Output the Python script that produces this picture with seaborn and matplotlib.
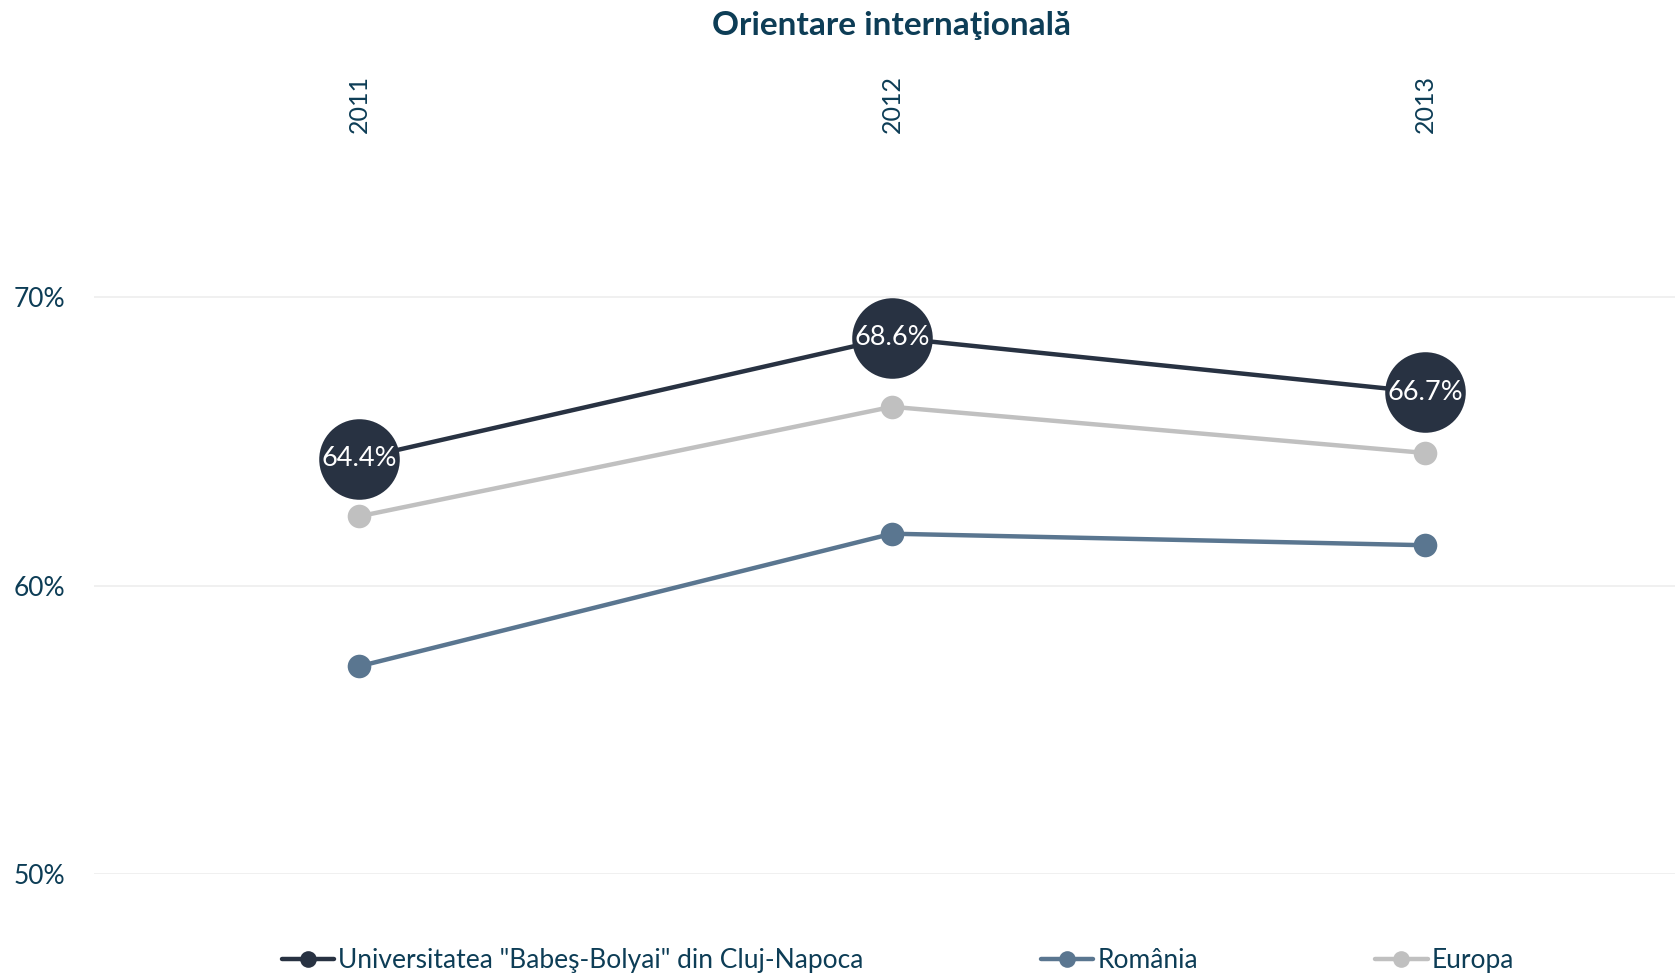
import matplotlib
matplotlib.use('Agg')
import matplotlib.pyplot as plt
import seaborn as sns
import pandas as pd
from matplotlib.lines import Line2D
from matplotlib.ticker import FixedLocator

# Datos
years = ['2011', '2012', '2013']
ubb = [64.4, 68.6, 66.7]
romania = [57.2, 61.8, 61.4]
europa = [62.4, 66.2, 64.6]

series_names = ['Universitatea "Babeş-Bolyai" din Cluj-Napoca', 'România', 'Europa']
colors = ['#283242', '#5a7690', '#c0c0c0']
text_color = '#0d3d56'

sns.set_theme(style='white')
plt.rcParams['font.family'] = ['Lato', 'DejaVu Sans']

df = pd.DataFrame({
    'pos': list(range(len(years))) * 3,
    'value': ubb + romania + europa,
    'serie': [s for s in series_names for _ in years],
})

fig = plt.figure(figsize=(16.75, 9.76), dpi=100)
ax = fig.add_axes([0.0561, 0.1045, 0.9439, 0.7535])

# Dibujar en orden: Europa, Romania, UBB encima
for name, color, ms in [(series_names[2], colors[2], 17),
                        (series_names[1], colors[1], 17),
                        (series_names[0], colors[0], 58)]:
    sub = df[df['serie'] == name]
    sns.lineplot(data=sub, x='pos', y='value', color=color, linewidth=3.2,
                 marker='o', markersize=ms, markeredgewidth=0, ax=ax, legend=False)

# Etiquetas dentro de los circulos grandes
for i, v in enumerate(ubb):
    ax.text(i, v, f'{v:.1f}%', ha='center', va='center', color='white', fontsize=19.5)

ax.set_xlim(-0.497, 2.469)
ax.set_ylim(50, 75.5)
ax.yaxis.set_major_locator(FixedLocator([50, 60, 70]))
ax.set_yticklabels(['50%', '60%', '70%'])
ax.grid(axis='y', color='#eeeeee', linewidth=1.2)
ax.grid(axis='x', visible=False)
ax.set_axisbelow(True)

ax.set_xticks(range(len(years)))
ax.set_xticklabels(years, rotation=90)
ax.xaxis.tick_top()
ax.tick_params(axis='x', length=0, pad=4, labelsize=18, labelcolor=text_color)
ax.tick_params(axis='y', length=0, pad=21, labelsize=19, labelcolor=text_color)
ax.set_xlabel('')
ax.set_ylabel('')
for sp in ax.spines.values():
    sp.set_visible(False)

fig.suptitle('Orientare internaţională', x=0.532, y=0.974, va='center',
             fontsize=24, fontweight='bold', color=text_color)

handles = [Line2D([0], [0], color=c, linewidth=3.2, marker='o', markersize=12,
                  markeredgewidth=0) for c in colors]
fig.legend(handles, series_names, loc='center', bbox_to_anchor=(0.536, 0.0155),
           ncol=3, frameon=False, fontsize=19, labelcolor=text_color,
           columnspacing=6.7, handlelength=2.0, handletextpad=0.15)

fig.savefig('out.png', dpi=100, facecolor='white')
